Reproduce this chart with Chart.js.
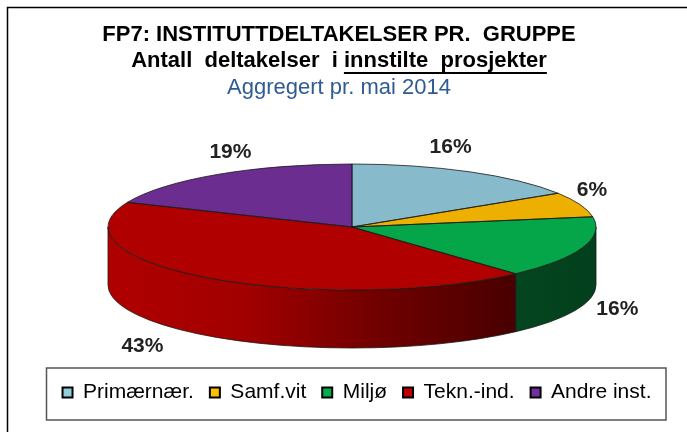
<!DOCTYPE html>
<html>
<head>
<meta charset="utf-8">
<title>FP7 instituttdeltakelser</title>
<script src="https://cdn.jsdelivr.net/npm/chart.js@4"></script>
<style>
    html, body { margin: 0; padding: 0; background: #fff; overflow: hidden; }
    #wrap { width: 687px; height: 432px; }
</style>
</head>
<body>
<div id="wrap"><canvas id="pieChart"></canvas></div>
<script>
// dati
const categories = ["Primærnær.", "Samf.vit", "Miljø", "Tekn.-ind.", "Andre inst."];
const shares = [16, 6.4, 15.9, 43.1, 18.6];
const titleLines = ["FP7: INSTITUTTDELTAKELSER PR.  GRUPPE", "Antall  deltakelser  i innstilte  prosjekter"];
const underlined = "innstilte  prosjekter";
const subtitleLine = "Aggregert pr. mai 2014";

// colori
const topColors = ["#87bacb", "#edb000", "#05a649", "#b00000", "#6b2d90"];
const legendColors = ["#92cddc", "#ffc000", "#00b050", "#c00000", "#7030a0"];
const wallStops = [
    ["#5a8a99", "#3a6270"],
    ["#a07800", "#705400"],
    ["#04451f", "#03401d"],
    ["#b00000", "#a20000", "#700000", "#480000"],
    ["#4a1f66", "#351549"]
];

// geometria della torta schiacciata
const radius = 244;
const squash = 63 / 244;
const depth = 58;
const pieCx = 352;
const pieCy = 227;
// spostamento delle etichette rispetto al bordo della fetta
const labelNudge = [[-19, -25], [12, -14], [35, 3], [-68, 10], [13, -22]];

function piePath(ctx, el, from, to) {
    ctx.save();
    ctx.translate(pieCx, pieCy);
    ctx.scale(1, squash);
    ctx.beginPath();
    ctx.moveTo(0, 0);
    ctx.arc(0, 0, radius, from, to);
    ctx.closePath();
    ctx.restore();
}

const pie3d = {
    id: "pie3d",
    beforeDraw(chart) {
        const ctx = chart.ctx;
        // cornice della pagina
        ctx.save();
        ctx.strokeStyle = "#000";
        ctx.lineWidth = 1.5;
        ctx.beginPath();
        ctx.moveTo(7.5, 440);
        ctx.lineTo(7.5, 7.5);
        ctx.lineTo(690, 7.5);
        ctx.stroke();
        ctx.restore();
    },
    beforeDatasetsDraw(chart) {
        const ctx = chart.ctx;
        const arcs = chart.getDatasetMeta(0).data;

        // parete laterale: solo la parte davanti (angoli tra 0 e PI)
        arcs.forEach((el, i) => {
            let start = el.startAngle;
            let end = el.endAngle;
            if (start < 0 && end > 0) start = 0;
            if (end > Math.PI && start < Math.PI) end = Math.PI;
            if (end <= 0 || start >= Math.PI) return;

            const x1 = pieCx + Math.cos(end) * radius;
            const x2 = pieCx + Math.cos(start) * radius;
            const grad = ctx.createLinearGradient(x1, 0, x2, 0);
            wallStops[i].forEach((c, n) => grad.addColorStop(n / (wallStops[i].length - 1), c));

            ctx.save();
            ctx.beginPath();
            ctx.ellipse(pieCx, pieCy, radius, radius * squash, 0, start, end);
            ctx.ellipse(pieCx, pieCy + depth, radius, radius * squash, 0, end, start, true);
            ctx.closePath();
            ctx.fillStyle = grad;
            ctx.fill();
            ctx.strokeStyle = "#1a1a1a";
            ctx.lineWidth = 0.8;
            ctx.stroke();
            ctx.restore();
        });

        // la faccia superiore viene disegnata da Chart.js, schiacciata
        const first = arcs[0];
        ctx.save();
        ctx.translate(pieCx, pieCy);
        ctx.scale(1, squash);
        ctx.translate(-first.x, -first.y);
    },
    afterDatasetsDraw(chart) {
        const ctx = chart.ctx;
        ctx.restore();

        const arcs = chart.getDatasetMeta(0).data;

        // bordi sottili, con spessore non schiacciato
        ctx.save();
        ctx.strokeStyle = "#1a1a1a";
        ctx.lineWidth = 0.8;
        arcs.forEach(el => {
            piePath(ctx, el, el.startAngle, el.endAngle);
            ctx.stroke();
        });
        ctx.restore();

        // etichette percentuali
        ctx.save();
        ctx.font = "bold 21px 'Liberation Sans'";
        ctx.fillStyle = "#222";
        ctx.textAlign = "center";
        ctx.textBaseline = "middle";
        arcs.forEach((el, i) => {
            const mid = (el.startAngle + el.endAngle) / 2;
            let x = pieCx + Math.cos(mid) * radius;
            let y = pieCy + Math.sin(mid) * radius * squash;
            if (Math.sin(mid) > 0) y += depth;
            ctx.fillText(Math.round(shares[i]) + "%", x + labelNudge[i][0], y + labelNudge[i][1]);
        });
        ctx.restore();
    },
    afterLayout(chart) {
        // la legenda nell'originale non e centrata come il titolo
        chart.legend.left += 18;
        chart.legend.right += 18;
    },
    afterDraw(chart) {
        const ctx = chart.ctx;

        // riquadro della legenda
        ctx.save();
        ctx.strokeStyle = "#555";
        ctx.lineWidth = 1.5;
        ctx.strokeRect(46.5, 368, 619.5, 52);
        ctx.restore();

        // sottolineatura della seconda riga del titolo
        const t = chart.titleBlock;
        const font = t.options.font;
        ctx.save();
        ctx.font = "bold " + font.size + "px 'Liberation Sans'";
        const full = ctx.measureText(titleLines[1]).width;
        const tail = ctx.measureText(underlined).width;
        const center = (t.left + t.right) / 2;
        const x2 = center + full / 2;
        ctx.fillStyle = "#000";
        ctx.fillRect(x2 - tail, 72, tail, 2);
        ctx.restore();
    }
};

new Chart(document.getElementById("pieChart"), {
    type: "pie",
    data: {
        labels: categories,
        datasets: [{
            data: shares,
            backgroundColor: topColors,
            borderWidth: 0,
            clip: false
        }]
    },
    options: {
        responsive: true,
        maintainAspectRatio: false,
        animation: false,
        radius: radius,
        layout: { padding: { left: 0, right: 9, top: 0, bottom: 19 } },
        events: [],
        plugins: {
            tooltip: { enabled: false },
            title: {
                display: true,
                text: titleLines,
                color: "#000",
                font: { family: "'Liberation Sans'", size: 22, weight: "bold", lineHeight: 1.18 },
                padding: { top: 22, bottom: 0 }
            },
            subtitle: {
                display: true,
                text: subtitleLine,
                color: "#2f5b93",
                font: { family: "'Liberation Sans'", size: 22, weight: "normal", lineHeight: 1.18 },
                padding: { top: 1, bottom: 0 }
            },
            legend: {
                position: "bottom",
                labels: {
                    color: "#111",
                    font: { family: "'Liberation Sans'", size: 21 },
                    boxWidth: 10,
                    boxHeight: 10,
                    padding: 16,
                    generateLabels(chart) {
                        return categories.map((name, i) => ({
                            text: name,
                            fillStyle: legendColors[i],
                            strokeStyle: "#000",
                            lineWidth: 2,
                            index: i
                        }));
                    }
                }
            }
        }
    },
    plugins: [pie3d]
});
</script>
</body>
</html>
